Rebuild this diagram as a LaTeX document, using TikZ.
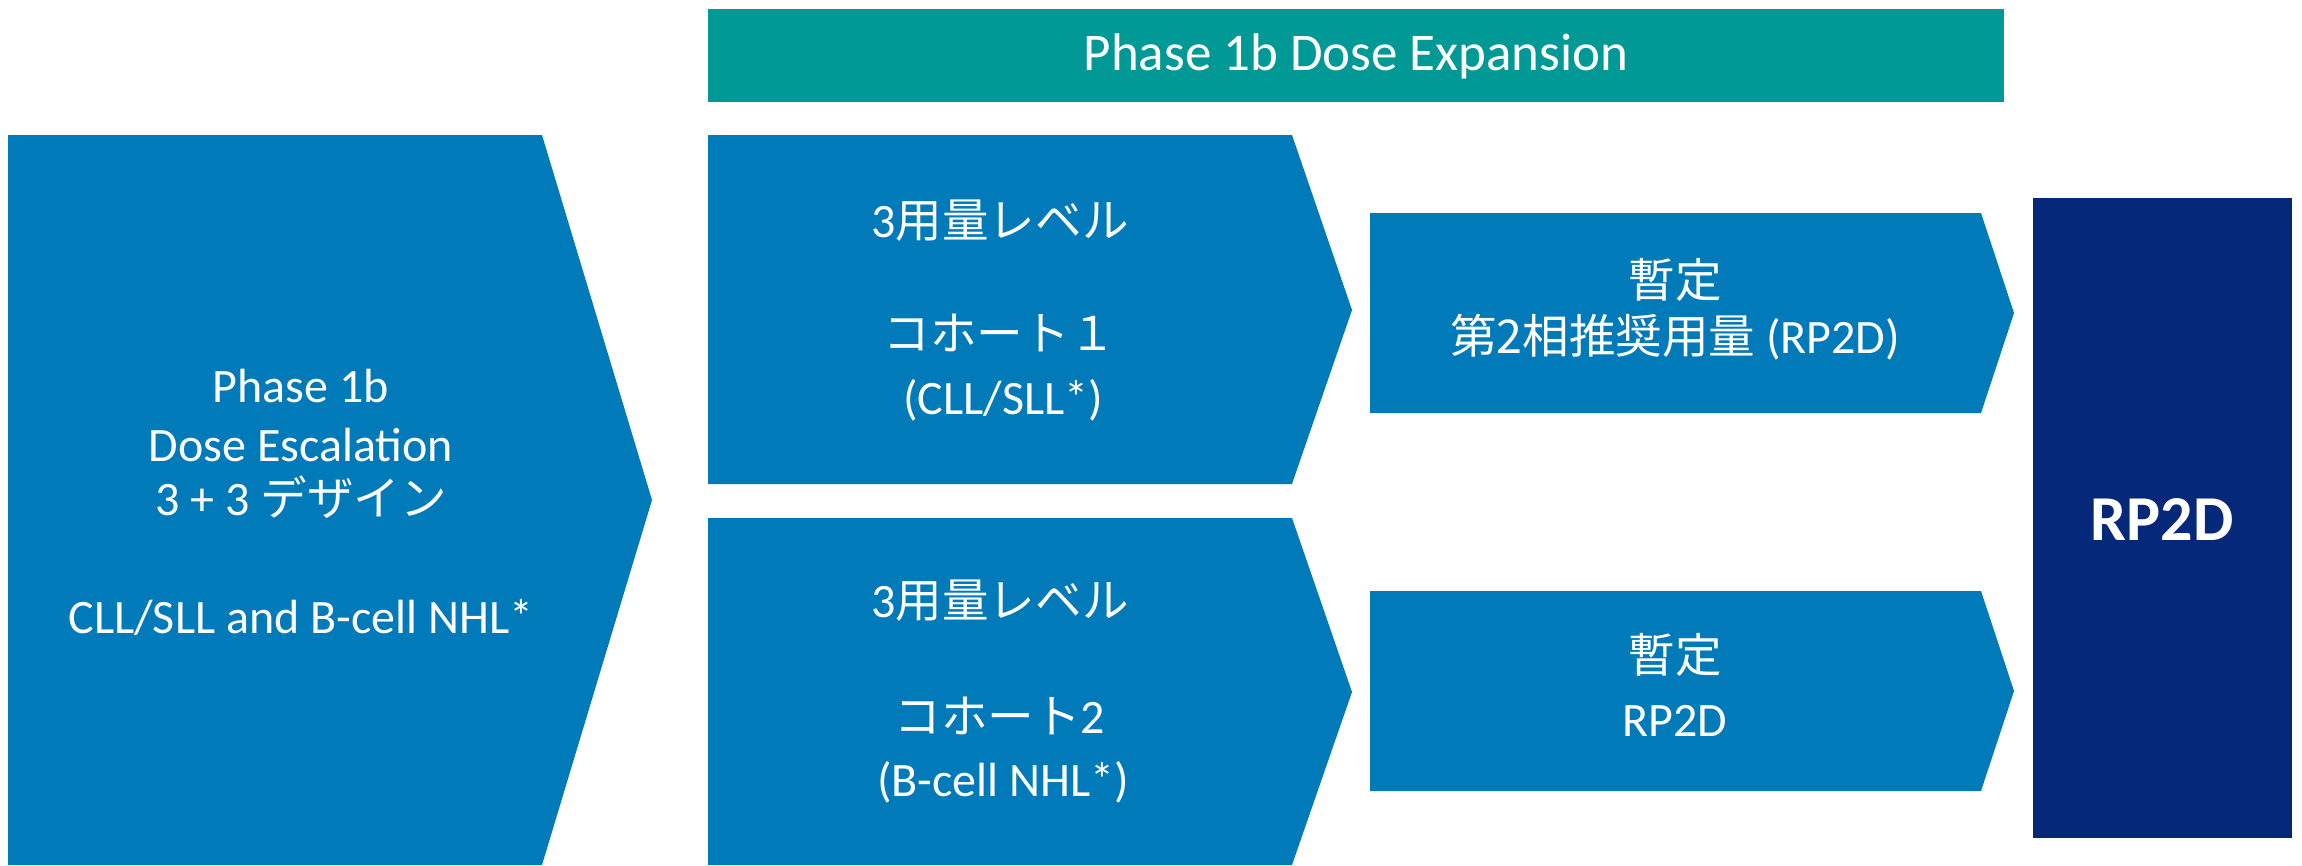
\documentclass[tikz,border=0pt]{standalone}
\usepackage{fontspec}
\setmainfont{Carlito}
\newfontfamily\jpfont{Noto Sans CJK JP}[Scale=0.97]
\newcommand\jp[1]{{\jpfont #1}}
\definecolor{pblue}{HTML}{007AB9}
\definecolor{pteal}{HTML}{009996}
\definecolor{pnavy}{HTML}{062878}
\begin{document}
\begin{tikzpicture}[x=1pt,y=-1pt,
  txt/.style={text=white,inner sep=0pt,anchor=base,font=\fontsize{48}{58}\selectfont},
  headtxt/.style={text=white,inner sep=0pt,anchor=base,font=\fontsize{53}{62}\selectfont},
  bigtxt/.style={text=white,inner sep=0pt,anchor=base,font=\bfseries\fontsize{64}{72}\selectfont},
  bluefill/.style={fill=pblue},
  tealfill/.style={fill=pteal},
  navyfill/.style={fill=pnavy}]
\useasboundingbox (0,0) rectangle (2302,865);
% shapes
\fill[tealfill] (708,9) rectangle (2004,102);
\fill[bluefill] (8,135) -- (542,135) -- (652,500) -- (542,865) -- (8,865) -- cycle;
\fill[bluefill] (708,135) -- (1292,135) -- (1352,310) -- (1292,484) -- (708,484) -- cycle;
\fill[bluefill] (708,518) -- (1292,518) -- (1352,692) -- (1292,865) -- (708,865) -- cycle;
\fill[bluefill] (1370,213) -- (1981,213) -- (2014,313) -- (1981,413) -- (1370,413) -- cycle;
\fill[bluefill] (1370,591) -- (1981,591) -- (2014,691) -- (1981,791) -- (1370,791) -- cycle;
\fill[navyfill] (2033,198) rectangle (2292,838);
% texts
\node[headtxt] (exp) at (1356,70) {Phase 1b Dose Expansion};
\node[txt] (esc1) at (301,402) {Phase 1b};
\node[txt] (esc2) at (301,461) {Dose Escalation};
\node[txt] (esc3) at (301,515) {3 + 3 \jp{デザイン}};
\node[txt] (esc4) at (301,633) {CLL/SLL and B-cell NHL*};
\node[txt] (c1a) at (1000,237) {3\jp{用量レベル}};
\node[txt] (c1b) at (1000,350) {\jp{コホート１}};
\node[txt] (c1c) at (1003,414) {(CLL/SLL*)};
\node[txt] (c2a) at (1000,617) {3\jp{用量レベル}};
\node[txt] (c2b) at (1000,733) {\jp{コホート}2};
\node[txt] (c2c) at (1003,796) {(B-cell NHL*)};
\node[txt] (r1a) at (1675,297) {\jp{暫定}};
\node[txt] (r1b) at (1675,353) {\jp{第2相推奨用量} (RP2D)};
\node[txt] (r2a) at (1675,672) {\jp{暫定}};
\node[txt] (r2b) at (1675,736) {RP2D};
\node[bigtxt] (final) at (2162,540) {RP2D};
\end{tikzpicture}
\end{document}
